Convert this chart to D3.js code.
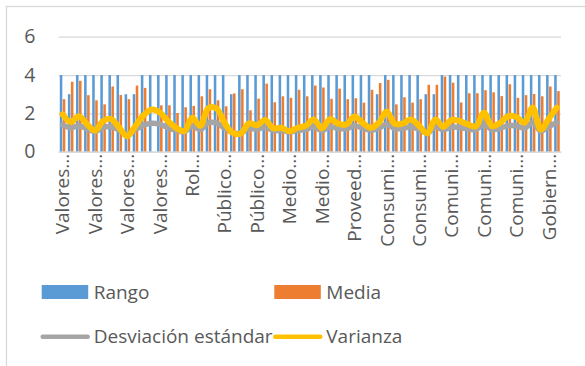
<!DOCTYPE html>
<html>
<head>
<meta charset="utf-8">
<script src="https://cdn.jsdelivr.net/npm/d3@7"></script>
<style>
  html, body { margin: 0; padding: 0; background: #fff; }
  svg { display: block; font-family: "Open Sans", "Liberation Sans", sans-serif; }
</style>
</head>
<body>
<svg id="chart" width="585" height="366"></svg>
<script>
// Category tick labels (one label every 4 categories)
const tickLabels = ["Valores...", "Valores...", "Valores...", "Valores...", "Rol...", "Público...",
  "Público...", "Medio...", "Medio...", "Proveed...", "Consumi...", "Consumi...",
  "Comuni...", "Comuni...", "Comuni...", "Gobiern..."];
const labelEvery = 4;

const rango = [4, 3, 4, 4, 4, 4, 4, 4, 3, 3,
  4, 4, 4, 4, 4, 4, 4, 4, 4, 4,
  4, 3, 4, 4, 4, 4, 4, 4, 4, 4,
  4, 4, 4, 4, 4, 4, 4, 4, 4, 3,
  4, 4, 4, 4, 4, 3, 3, 4, 4, 4,
  4, 4, 4, 4, 4, 4, 4, 4, 4, 4,
  4, 4];

const media = [2.74, 3.65, 3.70, 2.95, 2.68, 2.47, 3.40, 2.96, 2.74, 3.45,
  3.33, null, 2.42, 2.42, 2.02, 2.32, 2.39, 2.89, 3.26, 2.68,
  2.37, 3.04, 3.26, 2.16, 2.77, 3.55, 2.58, 2.89, 2.81, 3.23,
  2.89, 3.45, 3.35, 2.76, 3.29, 2.74, 2.79, 2.56, 3.23, 3.58,
  3.75, 2.47, 2.84, 2.56, 2.74, 3.49, 3.49, 3.92, 3.60, 2.57,
  3.05, 3.05, 3.21, 3.10, 2.90, 3.52, 2.81, 2.95, 3.01, 2.89,
  3.40, 3.16];

const desviacion = [1.40, 1.25, 1.36, 1.20, 1.05, 1.26, 1.30, 1.12, 0.90, 1.16,
  1.38, 1.48, 1.43, 1.26, 1.12, 1.03, 1.33, 1.16, 1.51, 1.50,
  1.22, 0.99, 0.97, 1.22, 1.17, 1.28, 1.10, 1.12, 1.03, 1.12,
  1.16, 1.30, 1.10, 1.30, 1.21, 1.19, 1.36, 1.23, 1.12, 1.22,
  1.45, 1.20, 1.22, 1.30, 1.16, 0.97, 1.30, 1.14, 1.29, 1.26,
  1.19, 1.15, 1.42, 1.15, 1.23, 1.36, 1.35, 1.23, 1.52, 1.08,
  1.31, 1.52];

const varianza = [1.95, 1.55, 1.85, 1.45, 1.10, 1.60, 1.70, 1.25, 0.80, 1.35,
  1.90, 2.20, 2.05, 1.60, 1.25, 1.07, 1.77, 1.35, 2.28, 2.25,
  1.50, 0.98, 0.95, 1.48, 1.38, 1.65, 1.22, 1.25, 1.07, 1.25,
  1.35, 1.68, 1.22, 1.70, 1.46, 1.42, 1.84, 1.51, 1.25, 1.50,
  2.10, 1.45, 1.48, 1.68, 1.35, 0.95, 1.68, 1.30, 1.66, 1.60,
  1.42, 1.33, 2.03, 1.33, 1.51, 1.86, 1.81, 1.51, 2.30, 1.16,
  1.72, 2.30];

const yTicks = [0, 2, 4, 6];

const colors = { rango: "#5B9BD5", media: "#ED7D31", desv: "#A5A5A5", varz: "#FFC000" };
const textColor = "#595959";
const gridColor = "#d9d9d9";
const fontFamily = "'Open Sans', 'Liberation Sans', sans-serif";

const svg = d3.select("#chart");

// chart frame
svg.append("rect")
  .attr("x", 6.5).attr("y", 6.5)
  .attr("width", 640).attr("height", 420)
  .attr("fill", "none").attr("stroke", gridColor).attr("stroke-width", 1.3);

const plot = { left: 58.5, right: 561, top: 36.7, bottom: 151.7 };
const idx = d3.range(rango.length);

const x = d3.scaleBand().domain(idx).range([plot.left, plot.right]).padding(0);
const xs = d3.scaleBand().domain(["rango", "media"]).range([0, x.bandwidth()])
  .paddingInner(0.15).paddingOuter(0.425);
const y = d3.scaleLinear().domain([0, 6]).range([plot.bottom, plot.top]);

// y axis with gridlines
const yAxis = svg.append("g")
  .attr("transform", `translate(${plot.left},0)`)
  .call(d3.axisLeft(y).tickValues(yTicks).tickFormat(d3.format("d"))
    .tickSize(-(plot.right - plot.left)).tickPadding(23));
yAxis.select(".domain").remove();
yAxis.selectAll(".tick line").attr("stroke", gridColor).attr("stroke-width", 1.3);
yAxis.selectAll(".tick text")
  .attr("fill", textColor).attr("font-size", 19.5)
  .attr("font-family", fontFamily);

// bars
const bars = svg.append("g");
bars.selectAll("rect.rango").data(idx).join("rect")
  .attr("class", "rango")
  .attr("x", i => x(i) + xs("rango"))
  .attr("width", xs.bandwidth())
  .attr("y", i => y(rango[i]))
  .attr("height", i => y(0) - y(rango[i]))
  .attr("fill", colors.rango);
bars.selectAll("rect.media").data(idx.filter(i => media[i] != null)).join("rect")
  .attr("class", "media")
  .attr("x", i => x(i) + xs("media"))
  .attr("width", xs.bandwidth())
  .attr("y", i => y(media[i]))
  .attr("height", i => y(0) - y(media[i]))
  .attr("fill", colors.media);

// x axis
const xAxis = svg.append("g")
  .attr("transform", `translate(0,${plot.bottom})`)
  .call(d3.axisBottom(x)
    .tickValues(idx.filter(i => i % labelEvery === 0))
    .tickFormat(i => tickLabels[i / labelEvery])
    .tickSize(0));
xAxis.select(".domain").attr("stroke", gridColor).attr("stroke-width", 1.3);
xAxis.selectAll(".tick text")
  .attr("fill", textColor).attr("font-size", 19)
  .attr("font-family", fontFamily)
  .attr("transform", "rotate(-90)")
  .attr("text-anchor", "end")
  .attr("x", -2).attr("y", 0).attr("dy", "0.36em");

// lines
const cx = i => x(i) + x.bandwidth() / 2;
const lineFor = arr => d3.line().x(cx).y(i => y(arr[i])).curve(d3.curveCatmullRom);
svg.append("path").datum(idx)
  .attr("d", lineFor(desviacion))
  .attr("fill", "none").attr("stroke", colors.desv).attr("stroke-width", 5.5)
  .attr("stroke-linejoin", "round").attr("stroke-linecap", "round");
svg.append("path").datum(idx)
  .attr("d", lineFor(varianza))
  .attr("fill", "none").attr("stroke", colors.varz).attr("stroke-width", 6)
  .attr("stroke-linejoin", "round").attr("stroke-linecap", "round");

// legend
const legend = svg.append("g").attr("font-size", 19).attr("fill", textColor);
const legendItems = [
  { name: "Rango", type: "rect", color: colors.rango, x: 41.7, y: 292 },
  { name: "Media", type: "rect", color: colors.media, x: 274.3, y: 292 },
  { name: "Desviación estándar", type: "line", color: colors.desv, x: 41.7, y: 336.7 },
  { name: "Varianza", type: "line", color: colors.varz, x: 274.3, y: 336.7 }
];
legendItems.forEach(d => {
  if (d.type === "rect") {
    legend.append("rect").attr("x", d.x).attr("y", d.y - 7).attr("width", 46.5).attr("height", 14)
      .attr("fill", d.color);
  } else {
    legend.append("line").attr("x1", d.x + 1).attr("x2", d.x + 46).attr("y1", d.y).attr("y2", d.y)
      .attr("stroke", d.color).attr("stroke-width", 4.5).attr("stroke-linecap", "round");
  }
  legend.append("text").attr("x", d.x + 52).attr("y", d.y).attr("dy", "0.35em").text(d.name);
});
</script>
</body>
</html>
